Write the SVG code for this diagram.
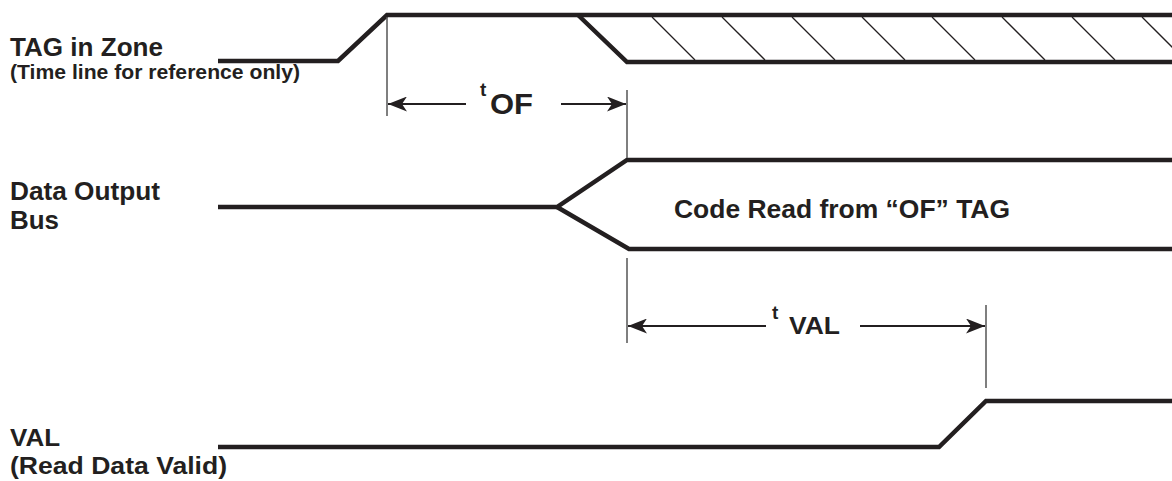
<svg xmlns="http://www.w3.org/2000/svg" width="1172" height="481" viewBox="0 0 1172 481">
  <defs>
    <style>
      .sig { fill: none; stroke: #231f20; stroke-width: 4.5; stroke-linejoin: miter; }
      .hatch { fill: none; stroke: #231f20; stroke-width: 1.3; }
      .ref { fill: none; stroke: #555; stroke-width: 1.5; }
      .dim { fill: none; stroke: #231f20; stroke-width: 2.2; }
      .lbl { font-family: "Liberation Sans", Arial, sans-serif; font-weight: bold; fill: #231f20; }
    </style>
    <marker id="arr" viewBox="0 0 19 15" refX="19" refY="7.5" markerWidth="19" markerHeight="15" markerUnits="userSpaceOnUse" orient="auto-start-reverse">
      <path d="M0,0 L19,7.5 L0,15 L5,7.5 Z" fill="#231f20"/>
    </marker>
  </defs>

  <rect width="1172" height="481" fill="#fff"/>

  <!-- signal labels -->
  <g id="label-tag">
    <text class="lbl" x="10" y="56" font-size="25" textLength="153" lengthAdjust="spacingAndGlyphs">TAG in Zone</text>
    <text class="lbl" x="10" y="79" font-size="20" textLength="290" lengthAdjust="spacingAndGlyphs">(Time line for reference only)</text>
  </g>
  <g id="label-bus">
    <text class="lbl" x="10" y="200" font-size="25" textLength="150" lengthAdjust="spacingAndGlyphs">Data Output</text>
    <text class="lbl" x="10" y="229" font-size="25" textLength="49" lengthAdjust="spacingAndGlyphs">Bus</text>
  </g>
  <g id="label-val">
    <text class="lbl" x="10" y="446" font-size="24" textLength="50" lengthAdjust="spacingAndGlyphs">VAL</text>
    <text class="lbl" x="10" y="474" font-size="24" textLength="217" lengthAdjust="spacingAndGlyphs">(Read Data Valid)</text>
  </g>

  <!-- TAG in Zone waveform -->
  <g id="wave-tag">
    <polyline class="sig" points="218,61 338,61 387,15 1172,15"/>
    <polyline class="sig" points="578,15 627,62 1172,62"/>
    <g class="hatch">
      <line x1="652" y1="17" x2="695" y2="60"/>
      <line x1="722" y1="17" x2="765" y2="60"/>
      <line x1="792" y1="17" x2="835" y2="60"/>
      <line x1="862" y1="17" x2="905" y2="60"/>
      <line x1="932" y1="17" x2="975" y2="60"/>
      <line x1="1002" y1="17" x2="1045" y2="60"/>
      <line x1="1072" y1="17" x2="1115" y2="60"/>
      <line x1="1142" y1="17" x2="1185" y2="60"/>
    </g>
  </g>

  <!-- Data Output Bus waveform -->
  <g id="wave-bus">
    <polyline class="sig" points="218,207 557,207 627,160 1172,160"/>
    <polyline class="sig" points="557,207 629,249 1172,249"/>
    <text class="lbl" x="674" y="218" font-size="26" textLength="336" lengthAdjust="spacingAndGlyphs">Code Read from “OF” TAG</text>
  </g>

  <!-- VAL waveform -->
  <g id="wave-val">
    <polyline class="sig" points="218,447 939,447 986,401 1172,401"/>
  </g>

  <!-- timing dimensions -->
  <g id="connectors">
    <line class="ref" x1="387" y1="17" x2="387" y2="116"/>
    <line class="ref" x1="627" y1="90" x2="627" y2="158"/>
    <line class="ref" x1="627" y1="258" x2="627" y2="343"/>
    <line class="ref" x1="986" y1="305" x2="986" y2="388"/>
    <line class="dim" x1="466" y1="104" x2="388" y2="104" marker-end="url(#arr)"/>
    <line class="dim" x1="561" y1="104" x2="626" y2="104" marker-end="url(#arr)"/>
    <line class="dim" x1="766" y1="326" x2="628" y2="326" marker-end="url(#arr)"/>
    <line class="dim" x1="860" y1="326" x2="985" y2="326" marker-end="url(#arr)"/>
  </g>

  <g id="label-tof">
    <text class="lbl" x="480" y="96" font-size="19">t</text>
    <text class="lbl" x="490" y="114" font-size="30" textLength="43" lengthAdjust="spacingAndGlyphs">OF</text>
  </g>
  <g id="label-tval">
    <text class="lbl" x="772" y="319" font-size="19">t</text>
    <text class="lbl" x="789" y="334" font-size="24" textLength="51" lengthAdjust="spacingAndGlyphs">VAL</text>
  </g>
</svg>
